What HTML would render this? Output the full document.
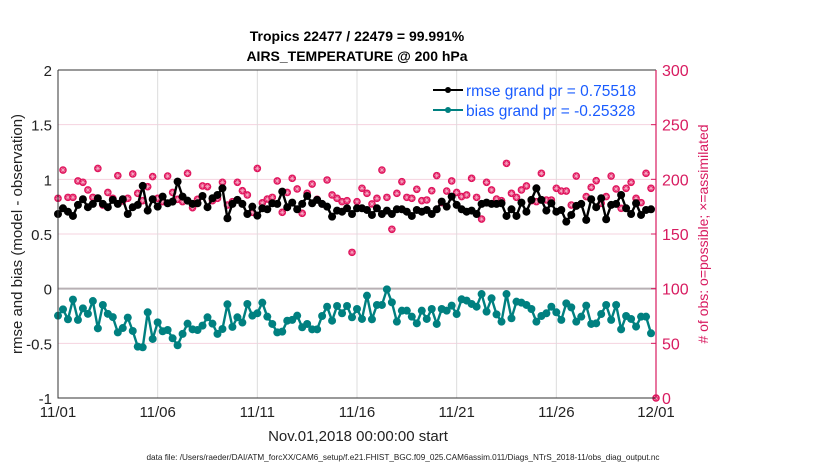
<!DOCTYPE html>
<html><head><meta charset="utf-8"><style>
body{margin:0;background:#fff;}
svg{display:block;font-family:"Liberation Sans",Arial,sans-serif;}
</style></head><body>
<svg id="chart" width="830" height="470" viewBox="0 0 830 470">
<rect width="830" height="470" fill="#fff"/>
<text x="357" y="41" text-anchor="middle" font-size="14" font-weight="bold">Tropics 22477 / 22479 = 99.991%</text>
<text x="357" y="61" text-anchor="middle" font-size="14" font-weight="bold">AIRS_TEMPERATURE @ 200 hPa</text>
<g id="grid"></g>
<g id="marks"></g>
<g id="axes"></g>
<g>
<line x1="433" y1="90" x2="463" y2="90" stroke="#000" stroke-width="2"/>
<circle cx="448" cy="90" r="3" fill="#000"/>
<text x="466" y="96" font-size="15.5" fill="#1a5cff">rmse grand pr = 0.75518</text>
<line x1="433" y1="110" x2="463" y2="110" stroke="#008080" stroke-width="2"/>
<circle cx="448" cy="110" r="3" fill="#008080"/>
<text x="466" y="116" font-size="15.5" fill="#1a5cff">bias grand pr = -0.25328</text>
</g>
<text x="358" y="441" text-anchor="middle" font-size="15" fill="#222">Nov.01,2018 00:00:00 start</text>
<text x="403" y="460" text-anchor="middle" font-size="8.2" fill="#222">data file: /Users/raeder/DAI/ATM_forcXX/CAM6_setup/f.e21.FHIST_BGC.f09_025.CAM6assim.011/Diags_NTrS_2018-11/obs_diag_output.nc</text>
<text transform="translate(22,234) rotate(-90)" text-anchor="middle" font-size="15" fill="#222">rmse and bias (model - observation)</text>
<text transform="translate(708,234) rotate(-90)" text-anchor="middle" font-size="14" fill="#d81b60"># of obs: o=possible; ×=assimilated</text>
</svg>
<script>
const rmse=[0.683,0.735,0.704,0.665,0.766,0.818,0.745,0.775,0.827,0.775,0.745,0.812,0.775,0.818,0.683,0.745,0.766,0.94,0.714,0.818,0.75,0.842,0.781,0.796,0.979,0.842,0.805,0.775,0.781,0.848,0.745,0.827,0.857,0.918,0.644,0.775,0.812,0.775,0.683,0.75,0.668,0.735,
0.726,0.781,0.775,0.888,0.745,0.787,0.726,0.775,0.848,0.781,0.812,0.775,0.75,0.659,0.714,0.704,0.735,0.683,0.735,0.735,0.72,0.674,0.735,0.683,0.714,0.683,0.726,0.726,0.704,0.665,0.72,0.704,0.72,0.683,0.726,0.796,0.75,0.842,0.766,0.726,
0.704,0.714,0.683,0.775,0.787,0.775,0.775,0.781,0.665,0.726,0.665,0.787,0.704,0.812,0.918,0.812,0.714,0.781,0.704,0.72,0.613,0.674,0.757,0.775,0.629,0.818,0.745,0.827,0.635,0.766,0.775,0.857,0.735,0.683,0.781,0.674,0.72,0.726];
const bias=[-0.247,-0.189,-0.28,-0.10,-0.286,-0.18,-0.23,-0.113,-0.363,-0.149,-0.23,-0.26,-0.40,-0.36,-0.265,-0.387,-0.53,-0.536,-0.216,-0.46,-0.308,-0.39,-0.378,-0.454,-0.518,-0.414,-0.32,-0.372,-0.378,-0.338,-0.262,-0.32,-0.414,-0.369,-0.143,-0.35,-0.262,-0.31,-0.14,-0.247,-0.225,-0.128,
-0.256,-0.323,-0.4,-0.393,-0.293,-0.286,-0.247,-0.353,-0.323,-0.372,-0.372,-0.25,-0.165,-0.293,-0.158,-0.225,-0.158,-0.262,-0.186,-0.277,-0.064,-0.28,-0.149,-0.149,-0.006,-0.125,-0.302,-0.201,-0.201,-0.256,-0.317,-0.201,-0.277,-0.186,-0.323,-0.186,-0.201,-0.155,-0.232,-0.097,
-0.109,-0.14,-0.165,-0.049,-0.21,-0.088,-0.235,-0.302,-0.049,-0.271,-0.119,-0.128,-0.149,-0.186,-0.302,-0.25,-0.225,-0.165,-0.216,-0.286,-0.134,-0.171,-0.302,-0.256,-0.155,-0.323,-0.317,-0.232,-0.149,-0.286,-0.149,-0.372,-0.25,-0.277,-0.347,-0.256,-0.256,-0.408];
const nobs=[182.6,208.5,183.5,183.5,198.5,197.3,190.3,183.5,210,176.5,188,182.6,203.4,180.2,182.6,204.9,187.2,180.5,193.3,202.5,182.6,179.6,203,188,181.7,179.6,205.5,174.1,181.7,194,193.3,180.5,182.6,197.3,176.5,179.6,197.3,189.6,185.7,169.8,210,178.5,
182,183.5,198.5,169.8,188,200.9,191.2,168.9,187.2,195.7,181.7,177.5,199.4,185.7,182.6,179.6,180.5,133.2,179.6,191.8,187.2,177.5,182.6,208.5,183.5,154.3,187.2,197.9,183.5,182.6,190.9,180.5,181.1,189.6,203.4,178.7,189.3,198.5,188,184.2,
185.7,200.9,183.5,163.7,197.3,190.3,182,180.5,214.6,187.2,183.5,190.3,194,180.5,179.6,205.5,181.1,181.1,191.8,189.3,189.3,176.5,203,177.5,184.2,192.7,198.8,178.1,184.2,203,191.2,173.5,191.8,197.3,182.6,178.7,205.5,191.8,0];
const xTickLabels=["11/01","11/06","11/11","11/16","11/21","11/26","12/01"];
const xTickDays=[0,5,10,15,20,25,30];
const yTicksLeft=[-1,-0.5,0,0.5,1,1.5,2];
const yTicksRight=[0,50,100,150,200,250,300];

const NS="http://www.w3.org/2000/svg";
const L=58,R=656,T=70,B=398;
const xs=d=>L+(R-L)*d/30;
const yl=v=>B-(B-T)*(v+1)/3;
const yr=v=>B-(B-T)*v/300;
function mk(tag,attrs,parent){const e=document.createElementNS(NS,tag);for(const k in attrs)e.setAttribute(k,attrs[k]);parent.appendChild(e);return e;}
const grid=document.getElementById('grid'),marks=document.getElementById('marks'),axes=document.getElementById('axes');

yTicksLeft.forEach(v=>{const g=mk('line',{x1:L,x2:R,y1:yl(v),y2:yl(v),stroke:v===0?'#b8b0b4':'#f5d3df','stroke-width':v===0?2:1},grid);


const t=mk('text',{x:L-6,y:yl(v)+6,'text-anchor':'end','font-size':15,fill:'#222'},axes);t.textContent=v;

});
xTickDays.forEach((d,i)=>{const g=mk('line',{x1:xs(d),x2:xs(d),y1:T,y2:B,stroke:'#dcdcdc','stroke-width':1},grid);


const t=mk('text',{x:xs(d),y:417,'text-anchor':'middle','font-size':15,fill:'#222'},axes);t.textContent=xTickLabels[i];

});
yTicksRight.forEach(v=>{const k=mk('line',{x1:R,x2:R-5,y1:yr(v),y2:yr(v),stroke:'#d81b60'},axes);


const t=mk('text',{x:R+6,y:yr(v)+6,'font-size':16,fill:'#d81b60'},axes);t.textContent=v;

});
const ax=mk('path',{d:`M${L},${T}V${B}H${R}M${L},${T}H${R}`,stroke:'#333',fill:'none','stroke-width':1},axes);


const ra=mk('line',{x1:R,x2:R,y1:T,y2:B,stroke:'#d81b60','stroke-width':1.2},axes);



nobs.forEach((v,i)=>{const x=xs(i*0.25),y=yr(v);
const g=mk('g',{},marks);


mk('circle',{cx:x,cy:y,r:3.8,fill:'#e0165e'},g);
mk('path',{d:`M${x-2.5},${y}H${x+2.5}M${x},${y-2.5}V${y+2.5}M${x-1.8},${y-1.8}L${x+1.8},${y+1.8}M${x-1.8},${y+1.8}L${x+1.8},${y-1.8}`,stroke:'#f7b0c8','stroke-width':0.6},g);});
function series(arr,col,name,r){
const pl=mk('polyline',{points:arr.map((v,i)=>xs(i*0.25)+','+yl(v)).join(' '),fill:'none',stroke:col,'stroke-width':2.4},marks);


arr.forEach((v,i)=>{const c=mk('circle',{cx:xs(i*0.25),cy:yl(v),r:r,fill:col},marks);

});}
series(rmse,'#000','rmse',4);
series(bias,'#008080','bias',4);
</script>
</body></html>
